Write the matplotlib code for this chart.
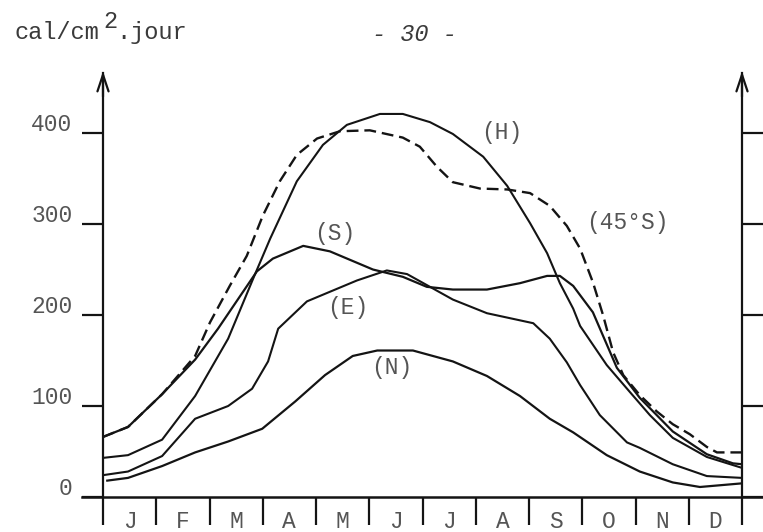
import numpy as np
import matplotlib
matplotlib.use('Agg')
import matplotlib.pyplot as plt
from matplotlib.transforms import ScaledTranslation

plt.rcParams['font.family'] = ['Liberation Mono', 'DejaVu Sans Mono']

# mois (axe x) et graduations
months = ['J', 'F', 'M', 'A', 'M', 'J', 'J', 'A', 'S', 'O', 'N', 'D']
y_ticks = [0, 100, 200, 300, 400]

# rayonnement global sur plan horizontal (H)
h_x = [0, 0.47, 1.11, 1.73, 2.35, 2.82, 3.14, 3.64, 4.13, 4.58, 5.2, 5.63, 6.14,
       6.57, 7.14, 7.59, 8.02, 8.34, 8.58, 8.83, 8.96, 9.46, 9.9, 10.27, 10.7, 11.34, 12]
h_y = [43, 46, 63, 111, 174, 240, 284, 347, 387, 409, 421, 421, 412,
       399, 374, 342, 301, 268, 235, 207, 188, 145, 115, 90, 65, 44, 32]

# paroi verticale Sud (S)
s_x = [0, 0.47, 1.11, 1.73, 2.16, 2.89, 3.19, 3.76, 4.26, 5.07, 5.63, 6.08, 6.57,
       7.21, 7.83, 8.34, 8.58, 8.83, 9.2, 9.65, 10.08, 10.7, 11.34, 11.83, 12]
s_y = [66, 77, 113, 151, 185, 248, 262, 276, 270, 250, 242, 231, 228,
       228, 235, 243, 243, 232, 203, 142, 109, 72, 47, 37, 36]

# paroi verticale Est (E)
e_x = [0, 0.47, 1.11, 1.73, 2.35, 2.8, 3.1, 3.29, 3.83, 4.32, 4.77, 5.33, 5.71,
       6.14, 6.57, 7.21, 8.08, 8.39, 8.71, 8.96, 9.33, 9.84, 10.08, 10.7, 11.34, 12]
e_y = [24, 28, 45, 86, 100, 119, 149, 185, 215, 227, 238, 249, 245,
       231, 217, 202, 191, 174, 148, 123, 90, 60, 54, 36, 23, 21]

# paroi verticale Nord (N)
n_x = [0.08, 0.47, 1.11, 1.73, 2.35, 2.99, 3.61, 4.17, 4.69, 5.15, 5.82, 6.57,
       7.21, 7.83, 8.39, 8.83, 9.46, 10.08, 10.7, 11.21, 12]
n_y = [18, 21, 34, 49, 61, 75, 105, 134, 155, 161, 161, 149,
       133, 111, 86, 71, 46, 28, 16, 11, 15]

# plan incliné à 45° orienté Sud (45°S)
d_x = [0, 0.47, 1.11, 1.73, 2.01, 2.38, 2.7, 3.0, 3.32, 3.64, 4.02, 4.45, 5.01,
       5.63, 5.95, 6.27, 6.57, 7.08, 7.59, 8.02, 8.39, 8.71, 8.96, 9.2, 9.39,
       9.58, 9.77, 10.08, 10.4, 10.7, 11.02, 11.34, 11.53, 12]
d_y = [66, 77, 113, 155, 192, 232, 265, 309, 347, 376, 394, 402, 403,
       395, 385, 363, 346, 339, 338, 334, 320, 298, 273, 236, 200,
       159, 134, 112, 94, 80, 69, 55, 49, 49]

ink = '#141414'
grey = '#555555'

fig = plt.figure(figsize=(7.63, 5.32), dpi=100)
ax = fig.add_axes([103 / 763, 35 / 532, 639 / 763, 424 / 532])
ax.set_xlim(0, 12)
ax.set_ylim(0, 466)

for side in ['top', 'bottom']:
    ax.spines[side].set_visible(False)
for side in ['left', 'right']:
    ax.spines[side].set_linewidth(1.6)
    ax.spines[side].set_color(ink)

# axe des x prolongé + séparations des mois
ax.plot([-0.39, 12.4], [0, 0], color=ink, lw=1.8, clip_on=False)
ax.set_xticks(range(13))
ax.set_xticklabels([])
ax.set_xticks(np.arange(12) + 0.5, minor=True)
ax.set_xticklabels(months, minor=True)
ax.tick_params(axis='x', which='major', direction='out', length=20, width=1.6, color=ink)
ax.tick_params(axis='x', which='minor', length=0, pad=9, labelsize=16.5, labelcolor=grey)

ax.set_yticks(y_ticks)
ax.set_yticklabels([str(v) for v in y_ticks])
ax.tick_params(axis='y', direction='out', length=15, width=1.6, color=ink,
               right=True, labelsize=16.5, labelcolor=grey, pad=7)
for lab in ax.get_yticklabels():
    lab.set_transform(lab.get_transform() + ScaledTranslation(0, 8 / 72, fig.dpi_scale_trans))

# flèches en haut des axes
for xa in [0, 12]:
    ax.annotate('', xy=(xa, 468), xytext=(xa, 440),
                arrowprops=dict(arrowstyle='->,head_length=0.6,head_width=0.2',
                                lw=1.6, color=ink, shrinkA=0, shrinkB=0,
                                mutation_scale=20),
                annotation_clip=False)

# courbes
ax.plot(h_x, h_y, color=ink, lw=1.5)
ax.plot(s_x, s_y, color=ink, lw=1.6)
ax.plot(e_x, e_y, color=ink, lw=1.5)
ax.plot(n_x, n_y, color=ink, lw=1.6)
ax.plot(d_x, d_y, color=ink, lw=1.7, ls=(0, (5, 2.5)))

lab_kw = dict(ha='center', va='center', fontsize=16.5, color=grey)
ax.text(7.49, 401, '(H)', **lab_kw)
ax.text(9.84, 302, '(45°S)', **lab_kw)
ax.text(4.36, 290, '(S)', **lab_kw)
ax.text(4.60, 208, '(E)', **lab_kw)
ax.text(5.43, 142, '(N)', **lab_kw)

# en-tête
def px(x, y):
    return x / 763, 1 - y / 532

fig.text(*px(15, 39), 'cal/cm', fontsize=17, color='#3a3a3a', va='baseline')
fig.text(*px(103, 28), '2', fontsize=17, color='#3a3a3a', va='baseline')
fig.text(*px(116, 39), '.jour', fontsize=17, color='#3a3a3a', va='baseline')
fig.text(*px(414, 41), '- 30 -', fontsize=17, color='#3a3a3a', va='baseline',
         ha='center', fontstyle='italic')

fig.savefig('out.png', dpi=100)
